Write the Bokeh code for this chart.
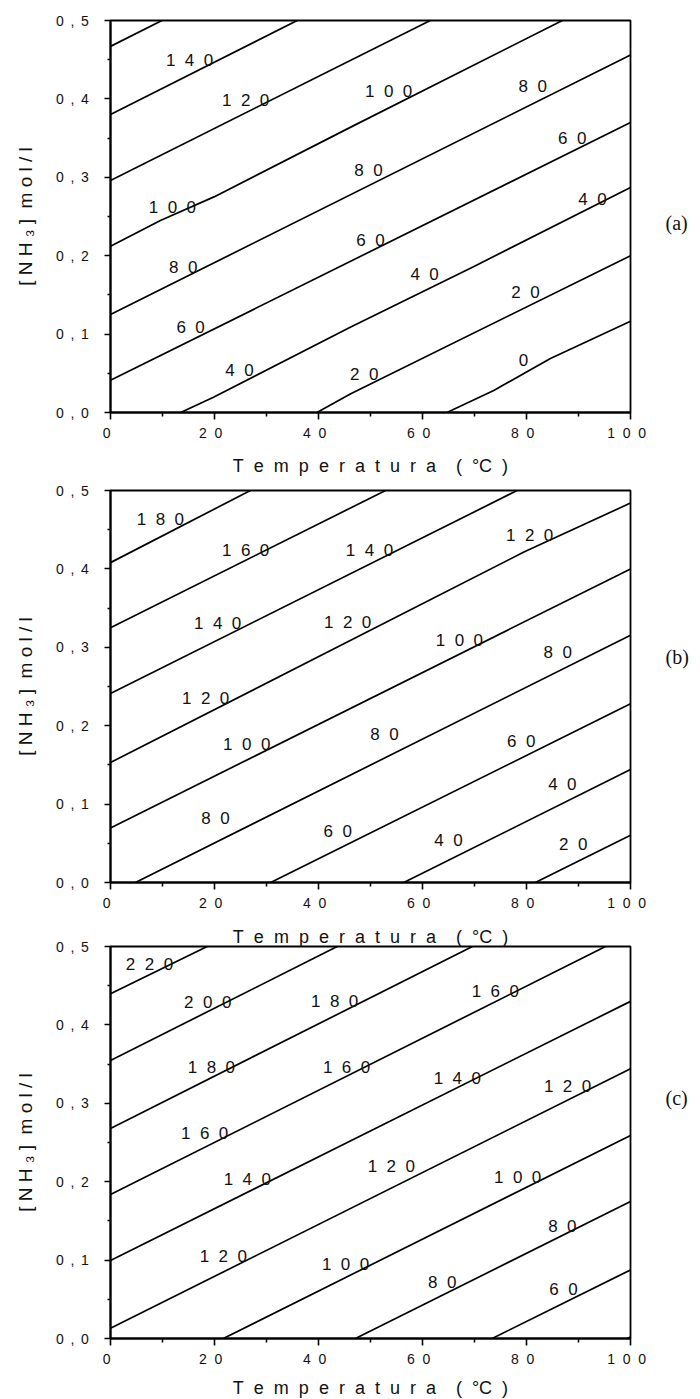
from bokeh.plotting import figure
from bokeh.layouts import column
from bokeh.models import FixedTicker, LinearAxis, Range1d, Title
from bokeh.core.properties import value
from bokeh.embed import file_html
from bokeh.resources import INLINE

NB = "\u00a0"
THIN = "\u2009"

# ---- axes -------------------------------------------------------------
temp_ticks = [0, 20, 40, 60, 80, 100]
temp_minor = [10, 30, 50, 70, 90]
temp_tick_text = ["0", "20", "40", "60", "80", "100"]
conc_ticks = [0.0, 0.1, 0.2, 0.3, 0.4, 0.5]
conc_minor = [0.05, 0.15, 0.25, 0.35, 0.45]
conc_tick_text = ["0,0", "0,1", "0,2", "0,3", "0,4", "0,5"]

x_title_tokens = list("Temperatura") + ["", "(", "°C", ")"]
y_title_tokens = ["[", "N", "H", "₃", "]", "", "m", "o", "l", "/", "l"]

# ---- panel (a): isolines, Temperatura (°C) vs [NH3] (mol/l) ---------------
levels_a = [160, 140, 120, 100, 80, 60, 40, 20, 0]
temp_a = [[0, 9.9], [0, 35.9], [0, 61.5], [0, 9.6, 19.9, 46.2, 86.9], [0, 100], [0, 100],
          [13.5, 19.8, 46.2, 69.8, 100], [39.7, 46.2, 100], [64.7, 73.7, 84.6, 100]]
conc_a = [[0.467, 0.5], [0.380, 0.5], [0.296, 0.5], [0.212, 0.245, 0.275, 0.364, 0.5],
          [0.125, 0.456], [0.041, 0.370], [0.0, 0.0195, 0.109, 0.186, 0.287],
          [0.0, 0.024, 0.200], [0.0, 0.028, 0.069, 0.1165]]
lab_level_a = [140, 120, 100, 100, 80, 80, 80, 60, 60, 60, 40, 40, 40, 20, 20, 0]
lab_temp_a = [15.2, 26.0, 11.9, 53.5, 14.0, 49.6, 81.2, 15.4, 50.0, 88.8, 24.8, 60.4, 92.7, 48.8, 79.8, 79.4]
lab_conc_a = [0.449, 0.398, 0.262, 0.409, 0.185, 0.309, 0.416, 0.109, 0.219, 0.350, 0.054, 0.176, 0.272,
              0.049, 0.153, 0.067]

# ---- panel (b) --------------------------------------------------------------
levels_b = [180, 160, 140, 120, 100, 80, 60, 40, 20]
temp_b = [[0, 26.9], [0, 52.9], [0, 78.2], [0, 79.5, 100], [0, 100], [4.8, 100], [30.8, 100],
          [56.4, 100], [81.7, 100]]
conc_b = [[0.408, 0.5], [0.325, 0.5], [0.241, 0.5], [0.153, 0.4215, 0.484], [0.0696, 0.400],
          [0.0, 0.3155], [0.0, 0.228], [0.0, 0.144], [0.0, 0.0604]]
lab_level_b = [180, 160, 140, 140, 120, 120, 120, 100, 100, 80, 80, 80, 60, 60, 40, 40, 20]
lab_temp_b = [9.6, 26.0, 20.6, 49.8, 18.3, 45.6, 80.6, 26.2, 67.1, 20.2, 52.7, 86.0, 43.7, 79.0, 65.0, 86.9, 89.0]
lab_conc_b = [0.463, 0.424, 0.330, 0.424, 0.235, 0.331, 0.443, 0.176, 0.309, 0.081, 0.189, 0.294,
              0.065, 0.180, 0.053, 0.125, 0.049]

# ---- panel (c) --------------------------------------------------------------
levels_c = [220, 200, 180, 160, 140, 120, 100, 80, 60, 40]
temp_c = [[0, 18.6], [0, 43.6], [0, 69.6], [0, 95.2], [0, 100], [0, 100], [21.7, 100],
          [47.1, 100], [73.4, 100], [99.4, 100]]
conc_c = [[0.4396, 0.5], [0.3546, 0.5], [0.268, 0.5], [0.1837, 0.5], [0.0995, 0.430],
          [0.0131, 0.344], [0.0, 0.259], [0.0, 0.1747], [0.0, 0.0875], [0.0, 0.002]]
lab_level_c = [220, 200, 180, 180, 160, 160, 160, 140, 140, 120, 120, 120, 100, 100, 80, 80, 60]
lab_temp_c = [7.5, 18.7, 19.4, 43.1, 18.1, 45.4, 74.0, 26.3, 66.7, 21.7, 54.0, 87.9, 45.2, 78.3, 63.8, 86.9, 87.1]
lab_conc_c = [0.477, 0.429, 0.346, 0.430, 0.261, 0.346, 0.442, 0.203, 0.331, 0.104, 0.219, 0.321,
              0.095, 0.205, 0.071, 0.143, 0.063]

SANS = "Liberation Sans"
SERIF = "Liberation Serif"


def tracked(tokens, gap, trail=False):
    s = gap.join(tokens)
    return s + gap if trail else s


X_TITLE = tracked(x_title_tokens, NB * 2)
Y_TITLE = tracked(y_title_tokens, NB)


def make_panel(temps, concs, lab_levels, lab_temps, lab_concs, tag, tag_conc,
               top, bottom, title_standoff=None):
    p = figure(width=700, height=top + 392 + bottom, frame_width=520, frame_height=392,
               x_range=Range1d(0, 100), y_range=Range1d(0, 0.5),
               min_border_left=110, min_border_right=70,
               min_border_top=top, min_border_bottom=bottom,
               output_backend="svg", toolbar_location=None,
               background_fill_color="white", border_fill_color="white")
    p.grid.visible = False
    p.outline_line_color = "black"
    p.outline_line_width = 1.8

    # isolines and their level labels
    p.multi_line(xs=temps, ys=concs, line_color="black", line_width=1.7)
    p.text(x=lab_temps, y=lab_concs,
           text=[tracked(list(str(v)), NB * 2) for v in lab_levels],
           text_font=value(SANS), text_font_size="17px", text_color="#111111",
           text_align="center", text_baseline="middle")

    # bottom axis
    xa = p.xaxis[0]
    xa.ticker = FixedTicker(ticks=temp_ticks, minor_ticks=temp_minor)
    xa.major_label_overrides = {t: tracked(list(s), NB * 2, trail=True)
                                for t, s in zip(temp_ticks, temp_tick_text)}
    if title_standoff is not None:
        xa.axis_label = X_TITLE
        xa.axis_label_standoff = title_standoff
    # left axis
    ya = p.yaxis[0]
    ya.ticker = FixedTicker(ticks=conc_ticks, minor_ticks=conc_minor)
    ya.major_label_overrides = {t: tracked(list(s), NB + THIN, trail=True)
                                for t, s in zip(conc_ticks, conc_tick_text)}
    ya.axis_label = Y_TITLE

    for ax in (xa, ya):
        ax.axis_line_width = 2
        ax.axis_line_color = "black"
        ax.major_tick_line_width = 1.6
        ax.minor_tick_line_width = 1.6
        ax.major_tick_in = 0
        ax.minor_tick_in = 0
        ax.major_label_text_font = SANS
        ax.major_label_text_font_size = "14px"
        ax.major_label_text_color = "#111111"
        ax.axis_label_text_font = SANS
        ax.axis_label_text_font_style = "normal"
        ax.axis_label_text_color = "#111111"
    xa.major_tick_out = 7
    xa.minor_tick_out = 4
    xa.major_label_standoff = 5
    xa.axis_label_text_font_size = "18px"
    ya.major_tick_out = 6
    ya.minor_tick_out = 3
    ya.major_label_standoff = 9
    ya.axis_label_text_font_size = "19px"
    ya.axis_label_standoff = 17

    # panel tag on the right-hand side
    tag_axis = LinearAxis(ticker=FixedTicker(ticks=[tag_conc], minor_ticks=[]),
                          major_label_overrides={tag_conc: tag},
                          axis_line_color=None, major_tick_line_color=None,
                          minor_tick_line_color=None,
                          major_tick_out=0, major_tick_in=0,
                          major_label_standoff=35,
                          major_label_text_font=SERIF,
                          major_label_text_font_size="20px",
                          major_label_text_color="#111111")
    p.add_layout(tag_axis, "right")
    return p


pa = make_panel(temp_a, conc_a, lab_level_a, lab_temp_a, lab_conc_a, "(a)", 0.2415, 20, 70, 12)
pb = make_panel(temp_b, conc_b, lab_level_b, lab_temp_b, lab_conc_b, "(b)", 0.287, 8, 30)
pc = make_panel(temp_c, conc_c, lab_level_c, lab_temp_c, lab_conc_c, "(c)", 0.3065, 33, 62, 8)

# the x caption of panel (b) lies in the narrow gap just above panel (c)
pc.add_layout(Title(text=X_TITLE, align="center", text_font=SANS, text_font_size="18px",
                    text_font_style="normal", text_color="#111111", standoff=0, offset=0),
              "above")

layout = column(pa, pb, pc, spacing=0)
open("out.html", "w").write(file_html(layout, INLINE))
